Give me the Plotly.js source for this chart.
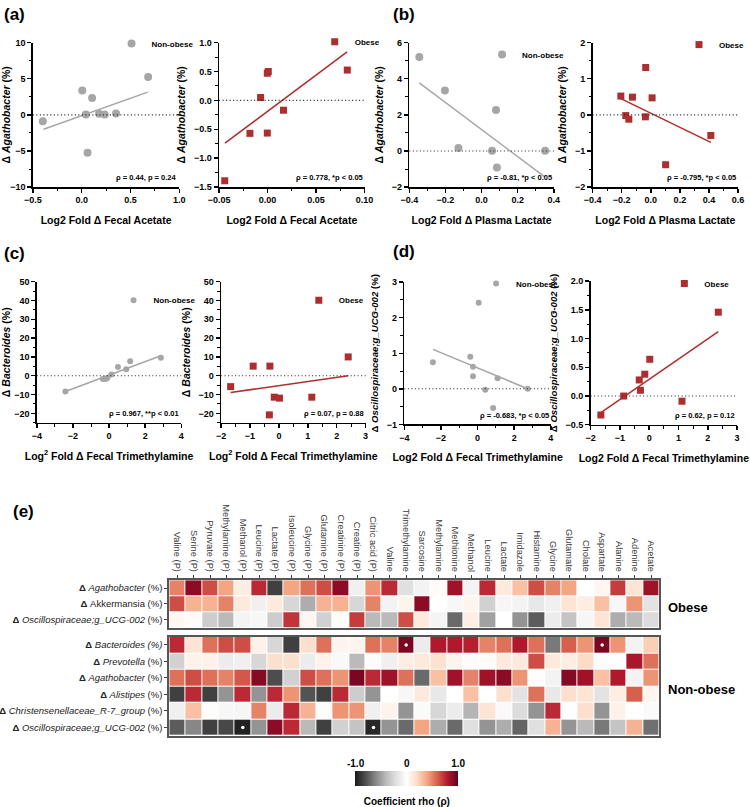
<!DOCTYPE html>
<html><head><meta charset="utf-8">
<script src="https://cdn.plot.ly/plotly-3.0.1.min.js"></script>
<style>html,body{margin:0;padding:0;background:#fff}#chart{width:750px;height:807px}</style>
</head><body><div id="chart"></div>
<script>
// ---------- scatter data ----------
const aNonObeseX = [-0.398, 0.006, 0.043, 0.060, 0.107, 0.179, 0.236, 0.352, 0.681];
const aNonObeseY = [-0.87, 3.38, 0.05, -5.25, 2.33, 0.14, 0.05, 0.18, 5.25];
const aNonObeseFitX = [-0.39, 0.677];
const aNonObeseFitY = [-2.0, 3.15];
const aObeseX = [-0.0442, -0.0182, -0.0072, -0.0003, 0.0007, -0.0003, 0.0164, 0.0822];
const aObeseY = [-1.39, -0.57, 0.05, 0.47, 0.50, -0.565, -0.17, 0.525];
const aObeseFitX = [-0.044, 0.082];
const aObeseFitY = [-0.74, 0.84];

const bNonObeseX = [-0.345, -0.203, -0.128, 0.058, 0.080, 0.085, 0.352];
const bNonObeseY = [5.2, 3.35, 0.16, 0.01, 2.27, -0.92, 0.01];
const bNonObeseFitX = [-0.345, 0.352];
const bNonObeseFitY = [3.77, -1.45];
const bObeseX = [-0.206, -0.172, -0.151, -0.126, -0.035, -0.037, 0.009, 0.102, 0.413];
const bObeseY = [0.52, -0.02, -0.12, 0.49, 1.31, -0.055, 0.47, -1.38, -0.57];
const bObeseFitX = [-0.206, 0.413];
const bObeseFitY = [0.45, -0.76];

const cNonObeseX = [-2.42, -0.34, -0.19, -0.10, 0.13, 0.49, 0.95, 1.17, 2.87];
const cNonObeseY = [-8.4, -1.7, -1.7, -1.2, 0.7, 4.7, 3.4, 7.7, 9.5];
const cNonObeseFitX = [-2.42, 2.83];
const cNonObeseFitY = [-8.4, 10.5];
const cObeseX = [-1.67, -0.89, -0.31, -0.33, -0.16, 0.02, 1.14, 2.40];
const cObeseY = [-5.8, 5.1, 5.1, -20.8, -11.4, -11.9, -11.4, 10.0];
const cObeseFitX = [-1.67, 2.40];
const cObeseFitY = [-8.9, 0.0];

const dNonObeseX = [-2.44, 0.06, -0.40, -0.25, -0.25, 1.09, 0.42, 0.85, 2.74];
const dNonObeseY = [0.75, 2.42, 0.90, 0.62, 0.35, 0.30, -0.03, -0.54, 0.0];
const dNonObeseFitX = [-2.44, 2.74];
const dNonObeseFitY = [1.11, 0.0];
const dObeseX = [-1.65, -0.87, -0.34, -0.30, -0.15, 0.02, 1.12, 2.36];
const dObeseY = [-0.33, 0.0, 0.28, 0.10, 0.38, 0.64, -0.09, 1.46];
const dObeseFitX = [-1.65, 2.36];
const dObeseFitY = [-0.29, 1.12];

const statTexts = ['ρ = 0.44, p = 0.24', 'ρ = 0.778, *p < 0.05', 'ρ = -0.81, *p < 0.05', 'ρ = -0.795, *p < 0.05',
  'ρ = 0.967, **p < 0.01', 'ρ = 0.07, p = 0.88', 'ρ = -0.683, *p < 0.05', 'ρ = 0.62, p = 0.12'];

// ---------- heatmap data ----------
const metabolites = ['Valine (P)','Serine (P)','Pyruvate (P)','Methylamine (P)','Methanol (P)','Leucine (P)','Lactate (P)',
  'Isoleucine (P)','Glycine (P)','Glutamine (P)','Creatinine (P)','Creatine (P)','Citric acid (P)','Valine','Trimethylamine',
  'Sarcosine','Methylamine','Methionine','Methanol','Leucine','Lactate','Imidazole','Histamine','Glycine','Glutamate',
  'Cholate','Aspartate','Alanine','Adenine','Acetate'];
const obeseRows = ['<b>Δ</b> <i>Agathobacter</i> (%)', '<b>Δ</b> Akkermansia (%)', '<b>Δ</b> <i>Oscillospiraceae;g_UCG-002</i> (%)'];
const nonObeseRows = ['<b>Δ</b> <i>Bacteroides (%)</i>', '<b>Δ</b> <i>Prevotella</i> (%)', '<b>Δ</b> <i>Agathobacter</i> (%)',
  '<b>Δ</b> <i>Alistipes</i> (%)', '<b>Δ</b> <i>Christensenellaceae_R-7_group</i> (%)', '<b>Δ</b> <i>Oscillospiraceae;g_UCG-002</i> (%)'];
const obeseAgathobacter = [0.5,0.9,0.65,0.4,0.1,0.75,-0.85,0.4,0.55,0.65,0.9,-0.1,0.45,0.75,-0.2,-0.08,0.02,0.85,-0.08,0.75,0.12,0.3,0.65,0.5,0.4,0.0,0.05,0.7,0.15,0.85];
const obeseAkkermansia = [0.65,0.35,0.35,0.5,0.12,-0.1,0.12,-0.25,-0.45,0.35,0.35,-0.25,0.5,-0.08,0.06,0.9,0.0,-0.05,0.06,-0.28,-0.06,-0.08,-0.15,-0.1,0.15,0.1,0.3,-0.05,0.45,-0.18];
const obeseOscillo = [0.05,0.02,-0.3,-0.4,-0.07,-0.05,-0.3,0.72,0.05,-0.28,0.02,0.7,-0.4,-0.4,0.65,0.12,-0.07,-0.7,0.1,-0.5,0.0,-0.55,-0.75,-0.12,-0.35,-0.06,0.15,-0.45,-0.4,-0.22];
const nonObeseBacteroides = [0.75,0.15,0.55,0.65,0.65,0.08,-0.25,-0.85,0.18,0.55,0.06,0.06,0.55,0.5,0.95,-0.12,0.8,0.8,0.78,0.5,0.55,0.8,0.55,-0.65,0.6,0.45,0.95,0.45,-0.08,0.25];
const nonObesePrevotella = [-0.28,0.07,0.07,-0.12,-0.1,-0.25,0.18,0.18,-0.12,0.07,-0.04,-0.4,-0.02,-0.1,0.1,0.12,0.16,0.06,-0.02,0.02,0.12,0.12,0.65,0.12,0.1,0.2,-0.02,0.0,0.82,0.55];
const nonObeseAgathobacter = [0.55,0.65,0.55,0.5,0.62,0.92,-0.8,-0.28,0.65,0.55,0.45,0.95,0.75,0.85,0.55,-0.7,0.3,0.85,0.5,0.85,0.9,0.45,0.01,-0.08,0.92,0.85,0.3,0.8,-0.08,0.45];
const nonObeseAlistipes = [-0.85,0.75,-0.85,-0.55,0.75,-0.55,0.75,0.45,-0.78,-0.85,0.75,-0.3,-0.55,0.0,-0.05,0.12,-0.15,0.0,0.3,0.0,0.18,-0.18,0.55,-0.15,0.18,0.15,-0.18,0.1,0.6,0.05];
const nonObeseChristensen = [-0.1,0.3,0.01,-0.05,-0.06,0.5,-0.12,0.75,0.35,0.01,0.45,0.45,-0.1,0.06,-0.55,-0.03,-0.25,-0.12,-0.42,0.15,-0.04,-0.22,-0.55,0.75,0.0,0.18,-0.55,0.08,0.0,-0.03];
const nonObeseOscillo = [-0.75,-0.6,-0.85,-0.82,-0.97,-0.55,0.9,0.75,-0.4,-0.85,-0.28,-0.35,-0.95,-0.55,-0.7,0.4,-0.45,-0.7,-0.2,-0.55,-0.45,-0.72,-0.2,0.35,-0.55,-0.4,-0.65,-0.35,0.35,-0.68];
const sigX = ['Trimethylamine', 'Aspartate', 'Methanol (P)', 'Citric acid (P)'];
const sigY = [nonObeseRows[0], nonObeseRows[0], nonObeseRows[5], nonObeseRows[5]];
const cbTickVals = [-1, 0, 1];
const cbTickText = ['-1.0', '0', '1.0'];

// ---------- layout helpers ----------
const W = 750, H = 807;
const F = 'Liberation Sans, Arial, sans-serif';
const dx = (a, b) => [a / W, b / W];
const dy = (t, b) => [1 - b / H, 1 - t / H];
const GRAY = '#a6a6a6', RED = '#ad2e2e';

const rdgy = [[0,'#1a1a1a'],[0.1,'#4d4d4d'],[0.2,'#878787'],[0.3,'#bababa'],[0.4,'#e0e0e0'],[0.5,'#ffffff'],
  [0.6,'#fddbc7'],[0.7,'#f4a582'],[0.8,'#d6604d'],[0.9,'#b2182b'],[1,'#67001f']];

function xax(dom, anchor, range, dtick, minorDt, fmt, title) {
  return {domain: dx(dom[0], dom[1]), anchor: anchor, range: range, dtick: dtick, tick0: 0, tickformat: fmt,
    showline: true, linecolor: '#000', linewidth: 1.5, ticks: 'outside', ticklen: 4, tickwidth: 1.5, tickcolor: '#000',
    showgrid: false, zeroline: false, fixedrange: true,
    tickfont: {family: F, size: 9, weight: 700, color: '#000'},
    minor: {dtick: minorDt, ticks: 'outside', ticklen: 2.5, tickwidth: 1, tickcolor: '#000', showgrid: false},
    title: {text: title, font: {family: F, size: 10.5, weight: 700, color: '#000'}, standoff: 12}};
}
function yax(dom, anchor, range, dtick, minorDt, fmt, title, tsize) {
  return {domain: dy(dom[0], dom[1]), anchor: anchor, range: range, dtick: dtick, tick0: 0, tickformat: fmt,
    showline: true, linecolor: '#000', linewidth: 1.5, ticks: 'outside', ticklen: 4, tickwidth: 1.5, tickcolor: '#000',
    showgrid: false, zeroline: false, fixedrange: true,
    tickfont: {family: F, size: 9, weight: 700, color: '#000'},
    minor: {dtick: minorDt, ticks: 'outside', ticklen: 2.5, tickwidth: 1, tickcolor: '#000', showgrid: false},
    title: {text: title, font: {family: F, size: tsize, weight: 700, color: '#000'}, standoff: 6}};
}

const yAgat = 'Δ <i>Agathobacter</i> (%)';
const yBact = 'Δ <i>Bacteroides</i> (%)';
const yOsc = 'Δ <i>Oscillospiraceae;g_UCG-002</i> (%)';
const xAce = 'Log2 Fold Δ Fecal Acetate';
const xLac = 'Log2 Fold Δ Plasma Lactate';
const xTma2 = 'Log<sup>2</sup> Fold Δ Fecal Trimethylamine';
const xTma = 'Log2 Fold Δ Fecal Trimethylamine';

const TOP = [43, 189], MID = [284.5, 427];
const layout = {
  width: W, height: H, margin: {l: 0, r: 0, t: 0, b: 0}, paper_bgcolor: '#fff', plot_bgcolor: 'rgba(0,0,0,0)',
  font: {family: F, color: '#000', size: 10},
  xaxis:  xax([33, 180], 'y', [-0.5, 1.0], 0.5, 0.25, '.1f', xAce),
  yaxis:  yax(TOP, 'x', [-10, 10], 5, 2.5, 'd', yAgat, 10.5),
  xaxis2: xax([220, 366], 'y2', [-0.05, 0.10], 0.05, 0.025, '.2f', xAce),
  yaxis2: yax(TOP, 'x2', [-1.5, 1.0], 0.5, 0.25, '.1f', yAgat, 10.5),
  xaxis3: xax([411, 556], 'y3', [-0.4, 0.4], 0.2, 0.1, '.1f', xLac),
  yaxis3: yax(TOP, 'x3', [-2, 6], 2, 1, 'd', yAgat, 10.5),
  xaxis4: xax([595, 741], 'y4', [-0.4, 0.6], 0.2, 0.1, '.1f', xLac),
  yaxis4: yax(TOP, 'x4', [-2, 2], 1, 0.5, 'd', yAgat, 10.5),
  xaxis5: xax([37, 182], 'y5', [-4, 4], 2, 1, 'd', xTma2),
  yaxis5: yax(MID, 'x5', [-25, 50], 10, 5, 'd', yBact, 10.5),
  xaxis6: xax([222, 367], 'y6', [-2, 3], 1, 0.5, 'd', xTma2),
  yaxis6: yax(MID, 'x6', [-25, 50], 10, 5, 'd', yBact, 10.5),
  xaxis7: xax([406, 553], 'y7', [-4, 4], 2, 1, 'd', xTma),
  yaxis7: yax([285, 428.6], 'x7', [-1, 3], 1, 0.5, 'd', yOsc, 9.6),
  xaxis8: xax([593, 740], 'y8', [-2, 3], 1, 0.5, 'd', xTma),
  yaxis8: yax([284, 429], 'x8', [-0.5, 2.0], 0.5, 0.25, '.1f', yOsc, 9.6),
  xaxis9: {domain: dx(170, 662), anchor: 'y9', side: 'top', type: 'category', categoryarray: metabolites, categoryorder: 'array',
    tickangle: 90, ticks: 'outside', ticklen: 3, tickcolor: '#444', showline: true, mirror: true, linecolor: '#555', linewidth: 2,
    showgrid: false, zeroline: false, fixedrange: true, tickfont: {family: F, size: 9.3, color: '#3a3a3a'}},
  yaxis9: {domain: dy(586, 634), anchor: 'x9', type: 'category', autorange: 'reversed', ticks: 'outside', ticklen: 3, tickcolor: '#444',
    showline: true, mirror: true, linecolor: '#555', linewidth: 2, showgrid: false, zeroline: false, fixedrange: true,
    tickfont: {family: F, size: 9.5, color: '#222'}},
  xaxis10: {domain: dx(170, 662), anchor: 'y10', matches: 'x9', type: 'category', showticklabels: false, ticks: '',
    showline: true, mirror: true, linecolor: '#555', linewidth: 2, showgrid: false, zeroline: false, fixedrange: true},
  yaxis10: {domain: dy(643, 743), anchor: 'x10', type: 'category', autorange: 'reversed', ticks: 'outside', ticklen: 3, tickcolor: '#444',
    showline: true, mirror: true, linecolor: '#555', linewidth: 2, showgrid: false, zeroline: false, fixedrange: true,
    tickfont: {family: F, size: 9.5, color: '#222'}},
  // scale axis carrying the colour-bar tick labels above the bar
  xaxis11: {domain: dx(357, 460), anchor: 'y11', side: 'top', range: [-1, 1], tickmode: 'array', tickvals: cbTickVals, ticktext: cbTickText,
    showline: false, showgrid: false, zeroline: false, ticks: '', fixedrange: true,
    tickfont: {family: F, size: 10, weight: 700, color: '#000'}},
  yaxis11: {domain: dy(778, 793), anchor: 'x11', range: [0, 1], fixedrange: true, showticklabels: false, showline: false,
    showgrid: false, zeroline: false, ticks: ''},
  shapes: [], annotations: [], showlegend: true
};

for (let i = 1; i <= 8; i++) {
  const s = i === 1 ? '' : i;
  layout.shapes.push({type: 'line', xref: 'x' + s + ' domain', yref: 'y' + s, x0: 0, x1: 1, y0: 0, y1: 0,
    line: {color: '#222', width: 1.1, dash: '1px,2.5px'}});
  layout.annotations.push({xref: 'x' + s + ' domain', yref: 'y' + s + ' domain', x: 1, y: 0.02, xanchor: 'right', yanchor: 'bottom',
    text: statTexts[i - 1], showarrow: false, font: {family: F, size: 7.5, weight: 700, color: '#000'}});
}
[['(a)', 2, 15], ['(b)', 393, 15], ['(c)', 2, 256], ['(d)', 393, 254], ['(e)', 11, 517]].forEach(p => {
  layout.annotations.push({xref: 'paper', yref: 'paper', x: p[1] / W, y: 1 - p[2] / H, xanchor: 'left', yanchor: 'middle',
    text: p[0], showarrow: false, font: {family: F, size: 17, weight: 700, color: '#000'}});
});
[['Obese', 614], ['Non-obese', 696]].forEach(p => {
  layout.annotations.push({xref: 'paper', yref: 'paper', x: 669 / W, y: 1 - p[1] / H, xanchor: 'left', yanchor: 'middle',
    text: p[0], showarrow: false, font: {family: F, size: 13, weight: 700, color: '#000'}});
});

const legPos = [[112, 44], [316, 42], [484, 55], [682, 45], [114, 303], [300, 303], [478, 286], [667, 286]];
legPos.forEach((p, i) => {
  const key = i === 0 ? 'legend' : 'legend' + (i + 1);
  layout[key] = {x: p[0] / W, y: 1 - p[1] / H, xanchor: 'left', yanchor: 'middle', bgcolor: 'rgba(0,0,0,0)', borderwidth: 0,
    font: {family: F, size: 8, weight: 700, color: '#000'}};
});

const traces = [];
const panels = [
  [aNonObeseX, aNonObeseY, aNonObeseFitX, aNonObeseFitY, 'n', 8],
  [aObeseX, aObeseY, aObeseFitX, aObeseFitY, 'o', 7],
  [bNonObeseX, bNonObeseY, bNonObeseFitX, bNonObeseFitY, 'n', 8],
  [bObeseX, bObeseY, bObeseFitX, bObeseFitY, 'o', 7],
  [cNonObeseX, cNonObeseY, cNonObeseFitX, cNonObeseFitY, 'n', 6],
  [cObeseX, cObeseY, cObeseFitX, cObeseFitY, 'o', 7],
  [dNonObeseX, dNonObeseY, dNonObeseFitX, dNonObeseFitY, 'n', 6],
  [dObeseX, dObeseY, dObeseFitX, dObeseFitY, 'o', 7]
];
panels.forEach((p, i) => {
  const s = i === 0 ? '' : (i + 1);
  const col = p[4] === 'n' ? GRAY : RED;
  traces.push({type: 'scatter', mode: 'lines', x: p[2], y: p[3], xaxis: 'x' + s, yaxis: 'y' + s, showlegend: false,
    line: {color: col, width: 1.5}, hoverinfo: 'skip'});
  traces.push({type: 'scatter', mode: 'markers', x: p[0], y: p[1], xaxis: 'x' + s, yaxis: 'y' + s,
    name: p[4] === 'n' ? 'Non-obese' : 'Obese', legend: i === 0 ? 'legend' : 'legend' + (i + 1),
    marker: {color: col, size: p[5], symbol: p[4] === 'n' ? 'circle' : 'square'}, cliponaxis: false});
});

traces.push({type: 'heatmap', x: metabolites, y: obeseRows, z: [obeseAgathobacter, obeseAkkermansia, obeseOscillo],
  xaxis: 'x9', yaxis: 'y9', zmin: -1, zmax: 1, colorscale: rdgy, xgap: 1, ygap: 1,
  colorbar: {orientation: 'h', x: 408.5 / W, xanchor: 'center', y: 1 - 778 / H, yanchor: 'top', len: 103, lenmode: 'pixels',
    thickness: 15, xpad: 0, ypad: 0, outlinewidth: 0, tickmode: 'array', tickvals: [], ticks: '',
    tickfont: {family: F, size: 9, color: '#000'},
    title: {text: 'Coefficient rho (ρ)', side: 'bottom', font: {family: F, size: 10, weight: 700, color: '#000'}}}});
traces.push({type: 'heatmap', x: metabolites, y: nonObeseRows,
  z: [nonObeseBacteroides, nonObesePrevotella, nonObeseAgathobacter, nonObeseAlistipes, nonObeseChristensen, nonObeseOscillo],
  xaxis: 'x10', yaxis: 'y10', zmin: -1, zmax: 1, colorscale: rdgy, xgap: 1, ygap: 1, showscale: false});
traces.push({type: 'scatter', mode: 'markers', x: sigX, y: sigY, xaxis: 'x10', yaxis: 'y10', showlegend: false,
  marker: {color: '#fff', size: 3.5}, hoverinfo: 'skip'});
// invisible anchor so the colour-bar scale axis is laid out
traces.push({type: 'scatter', mode: 'markers', x: cbTickVals, y: cbTickVals.map(() => 0.5), xaxis: 'x11', yaxis: 'y11',
  showlegend: false, marker: {opacity: 0}, hoverinfo: 'skip'});

Plotly.newPlot('chart', traces, layout, {staticPlot: true});
</script></body></html>
